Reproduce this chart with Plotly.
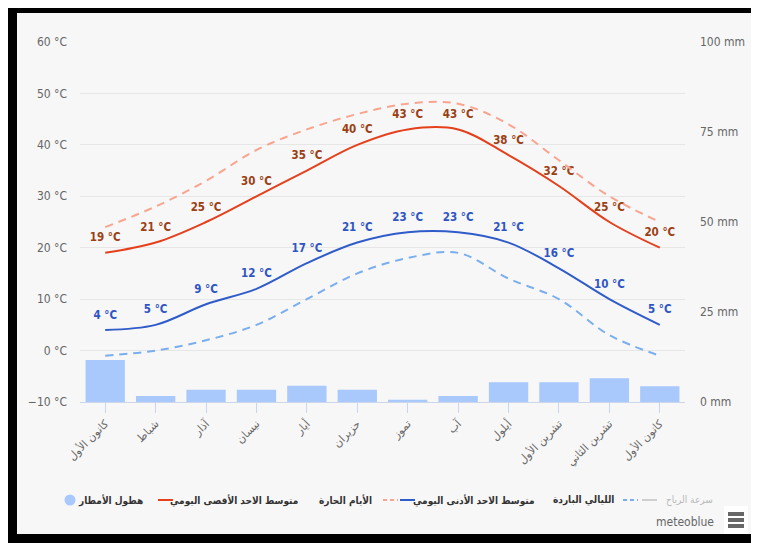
import plotly.graph_objects as go

# ---- data ----
months = ["كانون الأول", "شباط", "آذار", "نيسان", "أيار", "حزيران",
          "تموز", "آب", "أيلول", "تشرين الأول", "تشرين الثاني", "كانون الأول"]
precip_mm = [11.7, 1.7, 3.4, 3.4, 4.5, 3.4, 0.6, 1.7, 5.5, 5.5, 6.6, 4.4]
mean_max = [19, 21, 25, 30, 35, 40, 43, 43, 38, 32, 25, 20]
hot_days = [24, 28, 33, 39, 43, 46, 48, 48, 44, 37, 30, 25]
mean_min = [4, 5, 9, 12, 17, 21, 23, 23, 21, 16, 10, 5]
cold_nights = [-1, 0, 2, 5, 10, 15, 18, 19, 14, 10, 3, -1]

names = {
    "precip": "هطول الأمطار",
    "max": "متوسط الاحد الأقصى اليومي",
    "hot": "الأيام الحارة",
    "min": "متوسط الاحد الأدنى اليومي",
    "cold": "الليالي الباردة",
    "wind": "سرعة الرياح",
}

# page body has an 8px margin; figure placed so the screen coordinates match
OFF = 8
W, H = 759 - 2 * OFF, 543 - OFF
# plot area in screen pixels: x 80..685, y 42..402
L, T = 80 - OFF, 42 - OFF
R = W - (685 - OFF)
B = H - (402 - OFF)
PW, PH = W - L - R, H - T - B
RIGHT = OFF + W
BOTTOM = OFF + H


def sx(px):  # screen x -> paper
    return (px - OFF - L) / PW


def sy(py):  # screen y -> paper
    return (H - B - (py - OFF)) / PH


x = list(range(len(months)))
NUM_FONT = "DejaVu Sans Condensed, Liberation Sans Narrow, DejaVu Sans, sans-serif"
AR_FONT = "DejaVu Sans, sans-serif"
LEG_FONT = "DejaVu Sans Condensed, DejaVu Sans, sans-serif"

C_BG = "#f7f7f7"
C_BAR = "#a9c8fc"
C_MAX, C_HOT, C_MIN, C_COLD, C_WIND = "#e4401c", "#f9a48f", "#2f5cc9", "#7aaeee", "#cfcfcf"

fig = go.Figure()

fig.add_trace(go.Bar(
    x=x, y=precip_mm, yaxis="y", width=0.78,
    marker=dict(color=C_BAR, line=dict(width=0)),
    name=names["precip"]))

fig.add_trace(go.Scatter(
    x=x, y=mean_max, yaxis="y2", mode="lines+markers+text",
    line=dict(color=C_MAX, width=2, shape="spline"),
    marker=dict(size=12, color="rgba(0,0,0,0)"),
    text=[f"{v} °C" for v in mean_max], textposition="top center",
    textfont=dict(color="#9a4014", size=11.5, family=NUM_FONT, weight="bold"),
    name=names["max"]))

fig.add_trace(go.Scatter(
    x=x, y=hot_days, yaxis="y2", mode="lines",
    line=dict(color=C_HOT, width=2, shape="spline", dash="8px,6px"),
    name=names["hot"]))

fig.add_trace(go.Scatter(
    x=x, y=mean_min, yaxis="y2", mode="lines+markers+text",
    line=dict(color=C_MIN, width=2, shape="spline"),
    marker=dict(size=12, color="rgba(0,0,0,0)"),
    text=[f"{v} °C" for v in mean_min], textposition="top center",
    textfont=dict(color="#2f55c4", size=11.5, family=NUM_FONT, weight="bold"),
    name=names["min"]))

fig.add_trace(go.Scatter(
    x=x, y=cold_nights, yaxis="y2", mode="lines",
    line=dict(color=C_COLD, width=2, shape="spline", dash="8px,6px"),
    name=names["cold"]))


def rect(x0, x1, y0, y1, color, layer="below"):
    return dict(type="rect", xref="paper", yref="paper", layer=layer,
                x0=sx(x0), x1=sx(x1), y0=sy(y1), y1=sy(y0),
                fillcolor=color, line=dict(width=0))


def seg(x0, x1, y, color, dash="solid", width=2):
    return dict(type="line", xref="paper", yref="paper", layer="above",
                x0=sx(x0), x1=sx(x1), y0=sy(y), y1=sy(y),
                line=dict(color=color, width=width, dash=dash))


shapes = [
    rect(OFF, 17, OFF, BOTTOM, "#000000"),              # left frame
    rect(OFF, RIGHT, OFF, 13, "#000000"),               # top frame
    rect(OFF, RIGHT, 534, BOTTOM, "#000000"),           # bottom frame
    rect(724, 748, 506, 534, "#ffffff", "above"),       # menu button bg
]
for yy in (514, 520, 526):
    shapes.append(rect(728, 744, yy - 2, yy + 2, "#666666", "above"))

# manual legend symbols (screen coordinates)
LY = 500
shapes += [
    dict(type="circle", xref="paper", yref="paper", layer="above",
         x0=sx(64.5), x1=sx(75.5), y0=sy(LY + 5.5), y1=sy(LY - 5.5),
         fillcolor=C_BAR, line=dict(width=0)),
    seg(158, 173, LY, C_MAX),
    seg(383, 398, LY, C_HOT, dash="4px,3px"),
    seg(400, 415, LY, C_MIN),
    seg(623, 638, LY, C_COLD, dash="4px,3px"),
    seg(642, 657, LY, C_WIND),
]


def leg_text(key, cx, color="#333333", bold=True):
    return dict(text=names[key], xref="paper", yref="paper",
                x=sx(cx), y=sy(LY), xanchor="center", yanchor="middle",
                showarrow=False,
                font=dict(size=10, color=color, family=LEG_FONT,
                          weight="bold" if bold else "normal"))


annotations = [
    leg_text("precip", 110),
    leg_text("max", 234),
    leg_text("hot", 345),
    leg_text("min", 474),
    leg_text("cold", 583),
    leg_text("wind", 689, color="#b8b8b8", bold=False),
    dict(text="meteoblue", xref="paper", yref="paper",
         x=sx(716), y=sy(522), xanchor="right", yanchor="middle",
         showarrow=False, font=dict(size=12, color="#666666", family=NUM_FONT)),
]

fig.update_layout(
    width=W, height=H,
    margin=dict(l=L, r=R, t=T, b=B, autoexpand=False),
    paper_bgcolor=C_BG, plot_bgcolor="rgba(0,0,0,0)",
    font=dict(family=AR_FONT, color="#666666"),
    showlegend=False,
    xaxis=dict(range=[-0.5, 11.5], tickvals=x, ticktext=months, tickangle=-45,
               showline=True, linecolor="#ccd6eb", linewidth=1,
               ticks="outside", ticklen=10, tickcolor="#ccd6eb",
               showgrid=False, zeroline=False,
               tickfont=dict(size=11, color="#666666", family=AR_FONT)),
    yaxis=dict(range=[0, 100], dtick=25, side="right", showgrid=False,
               zeroline=False, ticksuffix=" mm", ticklabelstandoff=14,
               tickfont=dict(size=12, color="#666666", family=NUM_FONT)),
    yaxis2=dict(range=[-10, 60], dtick=10, side="left", overlaying="y",
                showgrid=True, gridcolor="#e6e6e6", gridwidth=1,
                zeroline=False, ticksuffix=" °C", ticklabelstandoff=12,
                tickfont=dict(size=12, color="#666666", family=NUM_FONT)),
    shapes=shapes,
    annotations=annotations,
)

fig.write_html("out.html")
